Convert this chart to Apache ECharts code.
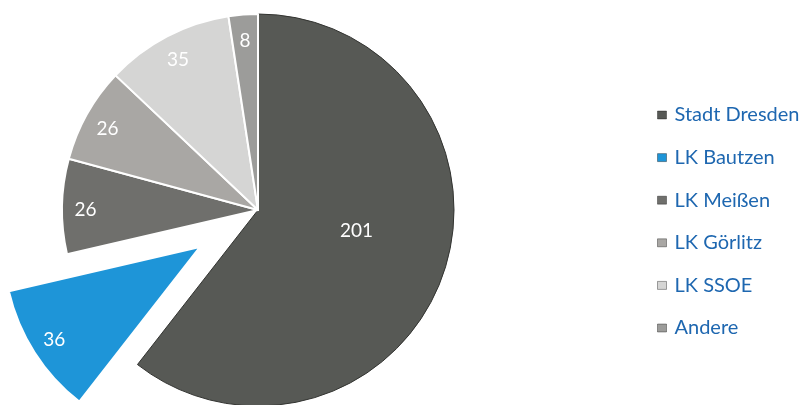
<!DOCTYPE html>
<html>
<head>
<meta charset="utf-8">
<script src="https://cdn.jsdelivr.net/npm/echarts@6/dist/echarts.min.js"></script>
<style>
  html, body { margin: 0; padding: 0; background: #ffffff; }
  #chart { width: 806px; height: 405px; }
</style>
</head>
<body>
<div id="chart"></div>
<script>
// Herkunft nach Region
const categories = ['Stadt Dresden', 'LK Bautzen', 'LK Meißen', 'LK Görlitz', 'LK SSOE', 'Andere'];
const values = [201, 36, 26, 26, 35, 8];
const colors = ['#575955', '#1e95d8', '#6f6f6c', '#a9a7a4', '#d5d5d4', '#9c9c9a'];
const explodedIndex = 1;

const center = [258, 210];
const outerRadius = 196;
const explodeOffset = 69;

const fontFamily = 'Lato, "Open Sans", sans-serif';

function buildData(labelRing) {
  return categories.map((name, i) => {
    const isDresden = i === 0;
    return {
      name: name,
      value: values[i],
      selected: i === explodedIndex,
      itemStyle: {
        color: labelRing ? 'rgba(0,0,0,0)' : colors[i],
        borderColor: labelRing ? 'rgba(0,0,0,0)' : (isDresden ? '#333431' : '#ffffff'),
        borderWidth: labelRing ? 0 : (isDresden ? 1 : 2)
      },
      label: { show: labelRing ? !isDresden : isDresden }
    };
  });
}

const labelStyle = {
  position: 'inside',
  color: '#ffffff',
  fontFamily: fontFamily,
  fontSize: 19,
  formatter: '{c}'
};

const chart = echarts.init(document.getElementById('chart'), null, { renderer: 'canvas' });
chart.setOption({
  animation: false,
  backgroundColor: '#ffffff',
  color: colors,
  legend: {
    orient: 'vertical',
    left: 657,
    top: 103,
    padding: 0,
    itemWidth: 9,
    itemHeight: 8,
    itemGap: 18.6,
    icon: 'rect',
    selectedMode: false,
    itemStyle: { borderColor: 'rgba(0,0,0,0.35)', borderWidth: 1 },
    textStyle: {
      color: '#1e67b0',
      fontFamily: fontFamily,
      fontSize: 20,
      lineHeight: 24,
      padding: [0, 0, 0, 3]
    },
    data: categories
  },
  series: [
    {
      // Kreissegmente
      type: 'pie',
      center: center,
      radius: [0, outerRadius],
      startAngle: 90,
      clockwise: true,
      selectedMode: 'single',
      selectedOffset: explodeOffset,
      silent: true,
      emphasis: { disabled: true },
      label: Object.assign({}, labelStyle, { offset: [3, -12] }),
      labelLine: { show: false },
      data: buildData(false)
    },
    {
      // Beschriftungen nahe dem Außenrand
      type: 'pie',
      center: center,
      radius: [outerRadius * 0.73, outerRadius],
      startAngle: 90,
      clockwise: true,
      selectedMode: 'single',
      selectedOffset: explodeOffset,
      silent: true,
      legendHoverLink: false,
      emphasis: { disabled: true },
      label: Object.assign({}, labelStyle, { offset: [0, 3] }),
      labelLine: { show: false },
      data: buildData(true)
    }
  ]
});
</script>
</body>
</html>
